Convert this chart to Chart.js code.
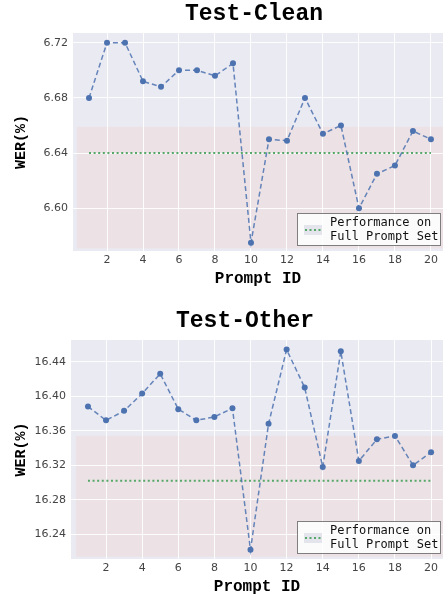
<!DOCTYPE html>
<html>
<head>
<meta charset="utf-8">
<script src="https://cdn.jsdelivr.net/npm/chart.js@4.4.0/dist/chart.umd.min.js"></script>
<style>
  body { margin: 0; background: #ffffff; }
  #wrap { position: relative; width: 443px; height: 596px; overflow: hidden; }
  canvas { position: absolute; left: 0; }
</style>
</head>
<body>
<div id="wrap">
  <canvas id="clean" width="443" height="298" style="top:0px"></canvas>
  <canvas id="other" width="443" height="298" style="top:298px"></canvas>
</div>
<script>
// prompt ids on the x axis
const promptIds = [1, 2, 3, 4, 5, 6, 7, 8, 9, 10, 11, 12, 13, 14, 15, 16, 17, 18, 19, 20];
const xTickValues = [2, 4, 6, 8, 10, 12, 14, 16, 18, 20];

// Test-Clean WER per prompt
const cleanWer = [6.680, 6.720, 6.720, 6.692, 6.688, 6.700, 6.700, 6.696, 6.705, 6.575,
                  6.650, 6.649, 6.680, 6.654, 6.660, 6.600, 6.625, 6.631, 6.656, 6.650];
const cleanFull = 6.640;           // full prompt set
const cleanBand = [6.571, 6.659];  // shaded range
const cleanYTicks = [6.60, 6.64, 6.68, 6.72];

// Test-Other WER per prompt
const otherWer = [16.388, 16.372, 16.383, 16.403, 16.426, 16.385, 16.372, 16.376, 16.386, 16.222,
                  16.368, 16.454, 16.410, 16.318, 16.452, 16.325, 16.350, 16.354, 16.320, 16.335];
const otherFull = 16.302;
const otherBand = [16.214, 16.354];
const otherYTicks = [16.24, 16.28, 16.32, 16.36, 16.40, 16.44];

const legendText = ['Performance on', 'Full Prompt Set'];

// background, shaded band, title and legend drawn by hand
const panelPlugin = {
    id: 'panel',
    beforeDraw(chart, args, opts) {
        const ctx = chart.ctx;
        const a = chart.chartArea;
        const xs = chart.scales.x, ys = chart.scales.y;
        ctx.save();
        ctx.fillStyle = '#eaeaf2';
        ctx.fillRect(a.left, a.top, a.right - a.left, a.bottom - a.top);
        // pink band
        const x0 = xs.getPixelForValue(opts.bandX);
        const y0 = ys.getPixelForValue(opts.band[1]);
        const y1 = ys.getPixelForValue(opts.band[0]);
        ctx.fillStyle = '#ece2e5';
        ctx.fillRect(x0, y0, a.right - x0, y1 - y0);
        ctx.restore();
    },
    afterDraw(chart, args, opts) {
        const ctx = chart.ctx;
        const a = chart.chartArea;
        ctx.save();
        // title
        ctx.fillStyle = '#000';
        ctx.font = 'bold 23px "Liberation Mono", monospace';
        ctx.textAlign = 'center';
        ctx.textBaseline = 'middle';
        ctx.fillText(opts.title, opts.titleX, opts.titleY);

        // legend box
        const w = 144, h = 33;
        const lx = a.right - 2 - w;
        const ly = a.bottom - 5 - h;
        ctx.fillStyle = 'rgba(255,255,255,0.85)';
        ctx.fillRect(lx, ly, w, h);
        ctx.strokeStyle = '#000';
        ctx.lineWidth = 1;
        ctx.setLineDash([1, 1]);
        ctx.strokeRect(lx + 0.5, ly + 0.5, w - 1, h - 1);
        // handle
        ctx.fillStyle = '#e4e4ec';
        ctx.fillRect(lx + 7, ly + 12, 18, 10);
        ctx.strokeStyle = '#55a868';
        ctx.lineWidth = 2;
        ctx.setLineDash([2, 2.5]);
        ctx.beginPath();
        ctx.moveTo(lx + 8, ly + 17);
        ctx.lineTo(lx + 25, ly + 17);
        ctx.stroke();
        ctx.setLineDash([]);
        // text
        ctx.fillStyle = '#111';
        ctx.font = '12px "DejaVu Sans Mono", monospace';
        ctx.textAlign = 'left';
        ctx.textBaseline = 'middle';
        ctx.fillText(legendText[0], lx + 33, ly + 10);
        ctx.fillText(legendText[1], lx + 33, ly + 24);
        ctx.restore();
    }
};

function makeChart(id, wer, full, band, yTicks, cfg) {
    const ctx = document.getElementById(id).getContext('2d');
    return new Chart(ctx, {
        type: 'line',
        data: {
            datasets: [{
                label: 'WER',
                data: promptIds.map((p, i) => ({x: p, y: wer[i]})),
                borderColor: 'rgba(76,114,176,0.85)',
                backgroundColor: '#4c72b0',
                borderWidth: 1.5,
                borderDash: [5, 3],
                pointRadius: 3,
                pointBorderWidth: 0,
                pointBackgroundColor: '#4c72b0',
                tension: 0
            }, {
                label: legendText.join(' '),
                data: [{x: promptIds[0], y: full}, {x: promptIds[promptIds.length - 1], y: full}],
                borderColor: '#55a868',
                borderWidth: 2,
                borderDash: [2, 2.6],
                pointRadius: 0
            }]
        },
        options: {
            responsive: false,
            animation: false,
            layout: { autoPadding: false, padding: { top: cfg.top, left: 0, right: 0, bottom: cfg.bottom } },
            plugins: {
                legend: { display: false },
                tooltip: { enabled: false },
                panel: { title: cfg.title, titleX: cfg.titleX, titleY: cfg.titleY, band: band, bandX: 0.33 }
            },
            scales: {
                x: {
                    type: 'linear',
                    min: cfg.xMin, max: cfg.xMax,
                    afterBuildTicks: s => { s.ticks = xTickValues.map(v => ({value: v})); },
                    afterFit: s => { s.height = 36; s.paddingLeft = 0; s.paddingRight = 0; },
                    border: { display: false },
                    grid: { color: 'rgba(255,255,255,0.9)', lineWidth: 1, drawTicks: false },
                    ticks: { padding: 3, color: '#444', font: { family: 'DejaVu Sans', size: 11 } },
                    title: {
                        display: true, text: 'Prompt ID', color: '#000',
                        font: { family: 'Liberation Mono', size: 16, weight: 'bold', lineHeight: 1 },
                        padding: { top: 0, bottom: 0 }
                    }
                },
                y: {
                    min: cfg.yMin, max: cfg.yMax,
                    afterBuildTicks: s => { s.ticks = yTicks.map(v => ({value: v})); },
                    afterFit: s => { s.width = cfg.yWidth; s.paddingTop = 0; s.paddingBottom = 0; },
                    border: { display: false },
                    grid: { color: 'rgba(255,255,255,0.9)', lineWidth: 1, drawTicks: false },
                    ticks: {
                        padding: 5, color: '#444', font: { family: 'DejaVu Sans', size: 11 },
                        callback: v => v.toFixed(2)
                    },
                    title: {
                        display: true, text: 'WER(%)', color: '#000',
                        font: { family: 'Liberation Mono', size: 15, weight: 'bold', lineHeight: 1 },
                        padding: { top: 14, bottom: 0 }
                    }
                }
            }
        },
        plugins: [panelPlugin]
    });
}

makeChart('clean', cleanWer, cleanFull, cleanBand, cleanYTicks, {
    title: 'Test-Clean', titleX: 254, titleY: 14,
    top: 33, bottom: 11, yWidth: 73,
    xMin: 0.11, xMax: 20.67, yMin: 6.5691, yMax: 6.7270
});
makeChart('other', otherWer, otherFull, otherBand, otherYTicks, {
    title: 'Test-Other', titleX: 245, titleY: 23,
    top: 42, bottom: 1, yWidth: 71,
    xMin: 0.06, xMax: 20.66, yMin: 16.2114, yMax: 16.4651
});
</script>
</body>
</html>
